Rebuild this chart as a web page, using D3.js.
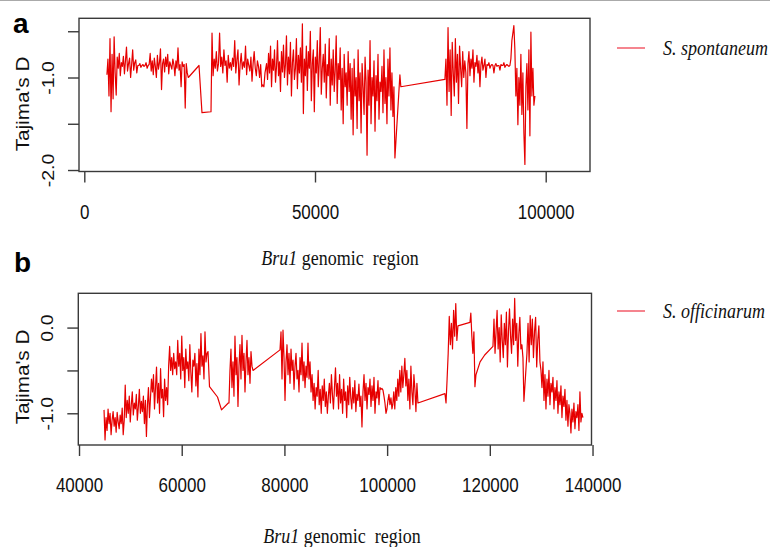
<!DOCTYPE html>
<html>
<head>
<meta charset="utf-8">
<script src="https://cdn.jsdelivr.net/npm/d3@7"></script>
<style>
  html, body { margin: 0; padding: 0; background: #fff; }
  svg { display: block; }
  .tick text { font-family: "Liberation Sans", Arial, sans-serif; font-size: 17px; fill: #111; }
</style>
</head>
<body>
<div id="chart"></div>
<script>
// ---- data: Tajima's D windows along the Bru1 region ----
// panel a, S. spontaneum: dense runs of evenly spaced windows, plus lone windows between them
const spontRunSpan = [[4900, 22540], [27680, 39160], [39500, 67320], [78150, 82920], [83150, 92240], [92450, 97660]];
const spontRun1 = [-0.97, -0.80, -1.20, -0.58, -1.37, -0.75, -1.23, -0.56,
  -0.95, -1.19, -0.78, -0.90, -0.74, -0.98, -0.84, -0.88, -0.77, -0.96, -0.82, -0.67, -0.93, -0.85, -0.79, -1.00, -0.86, -0.70, -0.92, -0.84, -0.81, -0.95, -0.87,
  -0.87, -0.85, -0.89, -0.87, -0.86, -0.88, -0.87, -0.84, -0.90, -0.87, -0.86, -0.74,
  -0.93, -0.82, -0.97, -0.79, -0.88, -1.00, -0.76, -0.91, -0.84, -0.69, -1.13, -0.85, -0.80, -0.94, -0.78, -0.88, -0.75, -0.96, -0.83, -0.87, -0.91, -0.80, -0.86, -0.98, -0.82, -0.90, -0.68, -0.92,
  -0.86, -1.10, -0.83, -0.88, -0.86, -1.33, -0.85, -0.95, -1.00];
const spontRun2 = [-0.52, -0.98, -0.80, -0.90, -0.72, -0.93, -0.85, -0.52, -0.88, -0.78, -0.95, -0.70, -0.87, -0.82, -1.05, -0.76, -0.90, -0.84, -0.92, -0.79,
  -0.88, -0.60, -0.95, -0.81, -0.70, -1.08, -0.86, -0.74, -0.91, -0.83, -0.89, -0.66, -0.97, -0.80, -0.87, -0.93, -0.78, -1.04, -0.85, -0.72,
  -0.90, -0.98, -0.82, -0.88, -1.00, -0.86, -1.10, -1.08, -1.10, -0.95];
const spontRun3 = [-0.85, -1.02, -0.74, -0.95, -0.66, -1.10, -0.80, -0.92, -0.70, -1.05, -0.88, -0.60, -0.98, -0.83, -1.15, -0.72, -0.94, -0.65, -1.00, -0.86,
  -0.55, -1.08, -0.78, -0.96, -0.62, -1.20, -0.84, -0.70, -1.02, -0.90, -0.58, -1.12, -0.76, -0.95, -0.68, -1.05, -0.42, -1.39, -0.80, -0.98,
  -0.66, -1.14, -0.72, -0.90, -0.50, -1.25, -0.85, -0.70, -1.37, -0.78, -0.95, -0.60, -1.10, -0.82, -0.46, -1.18, -0.90, -0.75, -1.05, -0.64,
  -1.22, -0.86, -0.98, -0.58, -1.30, -0.80, -1.08, -0.70, -1.15, -0.92, -0.55, -1.28, -0.85, -1.02, -0.68, -1.35, -0.90, -1.50, -0.75, -1.10,
  -0.95, -1.30, -0.72, -1.15, -0.85, -1.45, -0.90, -1.62, -0.80, -1.20, -1.00, -1.55, -0.70, -1.25, -0.95, -1.60, -0.85, -1.10, -1.40, -0.78,
  -1.05, -1.84, -0.92, -1.30, -0.60, -1.50, -1.00, -1.20, -0.82, -1.58, -0.98, -1.25, -0.75, -1.45, -1.05, -1.15, -0.88, -1.38, -0.70, -1.28,
  -1.00, -1.50, -0.80, -1.20, -0.68, -1.35, -0.95, -1.42, -1.10, -1.87];
const spontRun4 = [-1.02, -0.80, -1.30, -0.46, -1.15, -0.70, -1.41, -0.62, -0.95, -1.20, -0.58, -1.05, -0.75, -1.28, -0.66, -0.90, -1.10, -0.72, -1.00, -0.82, -0.95, -1.55];
const spontRun5 = [-0.85, -0.72, -0.98, -0.80, -0.90, -0.70, -1.05, -0.84, -0.88, -0.76, -0.95, -0.82, -1.10, -0.86, -0.78, -0.92, -0.87, -0.80, -1.00, -0.86,
  -0.87, -0.84, -0.90, -0.87, -0.86, -0.87, -0.95, -0.87, -0.85, -0.88, -0.87, -0.87, -0.92, -0.86, -0.87, -0.87, -0.84, -0.89, -0.87, -0.86, -0.87, -0.88, -0.87];
const spontRun6 = [-0.80, -0.60, -0.52, -0.44, -0.70, -1.20, -0.90, -1.51, -1.00, -1.30, -0.75, -1.40, -0.95, -1.60, -1.94, -1.10, -0.85, -1.35, -0.70, -1.63, -0.51, -1.20, -0.90, -1.30, -1.20];
const spontLinkPos = [24860, 25500, 27460, 68400, 68600];
const spontLinkD = [-0.87, -1.38, -1.37, -0.97, -1.10];

// panel b, S. officinarum
const officRunSpan = [[44870, 65120], [69200, 73880], [79140, 84400], [84590, 95300], [95500, 100940], [101100, 106000],
  [111260, 113790], [116300, 117100], [120610, 126450], [127230, 129760], [129960, 138130]];
const officRun1 = [-0.96, -1.31, -1.05, -1.20, -0.95, -1.12, -1.00, -1.25, -1.08, -0.98, -1.15, -1.05, -1.22, -0.99, -1.10, -1.18, -1.02, -1.12, -0.94, -1.25, -1.08,
  -0.67, -1.05, -0.85, -1.00, -0.80, -1.10, -0.90, -0.75, -1.02, -0.88, -0.95, -0.78, -1.08, -0.92, -0.72, -1.00, -0.86, -0.98, -0.80, -1.12, -0.85, -1.27, -0.90, -0.70, -1.05, -0.82, -0.60,
  -0.75, -0.55, -0.95, -0.70, -0.46, -0.88, -0.65, -1.00, -0.48, -0.82, -0.72, -1.04, -0.60, -0.85, -0.70, -0.90,
  -0.45, -0.22, -0.50, -0.35, -0.55, -0.30, -0.48,
  -0.40, -0.55, -0.15, -0.45, -0.30, -0.60, -0.10, -0.50, -0.35, -0.70, -0.25, -0.48, -0.40, -0.62, -0.20, -0.52, -0.75, -0.38, -0.45, -0.30,
  -0.68, -0.42, -0.81, -0.25, -0.55, -0.07, -0.45, -0.33, -0.60, -0.05, -0.40, -0.30, -0.28];
const officRun2 = [-0.88, -0.50, -0.25, -0.70, -0.40, -0.80, -0.10, -0.55, -0.35, -0.92, -0.45, -0.20, -0.60, -0.09, -0.50, -0.30, -0.75, -0.40, -0.15, -0.55, -0.35, -0.65, -0.28, -0.45, -0.50];
const officRun3 = [-0.26, -0.05, -0.60, -0.03, -0.35, -0.85, -0.40, -0.20, -0.55, -0.30, -0.65, -0.25, -0.50, -0.38, -0.72, -0.45, -0.30, -0.60, -0.50, -0.75, -0.35, -0.55, -0.18, -0.62, -0.40, -0.70, -0.45, -0.58];
const officRun4 = [-0.18, -0.60, -0.40, -0.75, -0.55, -0.85, -0.65, -0.95, -0.70, -0.80, -0.50, -0.90, -0.72, -1.00, -0.68, -0.85, -0.60, -0.92, -0.75, -1.00, -0.80, -0.65, -0.88, -0.55, -0.78, -0.95, -0.70,
  -0.47, -0.80, -0.65, -0.95, -0.55, -0.88, -0.72, -1.00, -0.60, -0.85, -0.75, -1.05, -0.68, -0.90, -0.58, -0.82, -0.95, -0.70, -0.88, -0.62, -0.98, -0.78, -0.85, -0.66, -0.92, -0.80, -1.16, -0.75];
const officRun5 = [-0.55, -0.85, -0.65, -0.95, -0.70, -0.78, -0.60, -0.92, -0.68, -0.85, -0.58, -1.00, -0.75, -0.82, -0.62, -0.90, -0.70, -0.72, -0.71, -0.73, -0.80, -0.88, -1.00, -0.95, -0.85, -0.78, -0.90, -0.82, -0.95];
const officRun6 = [-0.90, -0.75, -0.95, -0.70, -0.85, -0.60, -0.80, -0.50, -0.75, -0.45, -0.70, -0.55, -0.36, -0.68, -0.50, -0.85, -0.60, -0.95, -0.45, -0.75, -0.90, -0.55, -0.72, -0.98, -0.65, -0.88];
const officRun7 = [-0.77, -0.88, -0.60, -0.30, 0.13, -0.20, 0.05, -0.25, 0.20, -0.10, 0.28, -0.15, 0.02];
const officRun8 = [0.17, -0.10, -0.30, -0.05, -0.69];
const officRun9 = [-0.22, 0.10, -0.30, -0.05, 0.20, -0.25, 0.00, -0.40, 0.15, -0.15, -0.35, 0.05, -0.20, 0.18, -0.46, -0.05, 0.22, -0.10, -0.30, 0.10,
  -0.20, 0.34, -0.15, 0.05, -0.45, -0.08, 0.12, -0.25, -0.20, -0.35];
const officRun10 = [-0.30, 0.05, -0.40, 0.14, -0.20, 0.10, -0.35, -0.05, 0.12, -0.46, -0.15, 0.02, -0.40];
const officRun11 = [-0.50, -0.70, -0.40, -0.85, -0.55, -0.95, -0.60, -0.80, -0.50, -0.90, -0.65, -0.75, -0.58, -0.95, -0.70, -0.85, -0.62, -1.00, -0.75, -0.90,
  -0.68, -1.05, -0.80, -0.92, -0.72, -1.08, -0.85, -1.15, -0.90, -1.00, -1.23, -0.95, -1.10, -0.88, -1.18, -0.98, -1.05, -0.90, -1.20, -0.75, -1.10, -1.00, -1.05];
const officLinkPos = [65410, 66970, 67750, 69070, 116130, 117300, 118100, 119000, 126640];
const officLinkD = [-0.69, -0.81, -0.96, -0.88, 0.06, -0.55, -0.40, -0.32, -0.86];

// axes
const spontXTicks = [0, 50000, 100000];
const spontYTicks = [-0.5, -1.0, -1.5, -2.0];
const spontYLabels = [-1.0, -2.0];
const officXTicks = [40000, 60000, 80000, 100000, 120000, 140000];
const officYTicks = [0.0, -0.5, -1.0];
const officYLabels = [0.0, -1.0];

// windows of a run sit at a fixed step between its first and last position
function windows(spans, runs, linkPos, linkD) {
  const pts = [];
  spans.forEach(([a, b], i) => {
    const vals = runs[i];
    vals.forEach((d, j) => pts.push([a + (b - a) * j / (vals.length - 1), d]));
  });
  linkPos.forEach((p, i) => pts.push([p, linkD[i]]));
  return pts.sort((p, q) => p[0] - q[0]);
}

const spont = windows(spontRunSpan, [spontRun1, spontRun2, spontRun3, spontRun4, spontRun5, spontRun6], spontLinkPos, spontLinkD);
const offic = windows(officRunSpan, [officRun1, officRun2, officRun3, officRun4, officRun5, officRun6, officRun7, officRun8, officRun9, officRun10, officRun11], officLinkPos, officLinkD);

const W = 770, H = 547;
const svg = d3.select('#chart').append('svg').attr('width', W).attr('height', H);
svg.append('rect').attr('width', W).attr('height', H).attr('fill', '#fff');
svg.append('line').attr('x1', 0).attr('x2', W).attr('y1', 0.5).attr('y2', 0.5).attr('stroke', '#aaa');

const sans = '"Liberation Sans", Arial, sans-serif';
const serif = '"Liberation Serif", "Times New Roman", serif';
const STRETCH = 1.15; // the figure is a little taller than wide

function panel(opts) {
  const x = d3.scaleLinear().domain(opts.xDomain).range([opts.left, opts.right]);
  const y = d3.scaleLinear().domain(opts.yDomain).range([opts.bottom, opts.top]);
  const g = svg.append('g');

  g.append('path')
    .datum(opts.data)
    .attr('fill', 'none')
    .attr('stroke', '#e60000')
    .attr('stroke-width', 1.2)
    .attr('stroke-linejoin', 'round')
    .attr('d', d3.line().x(d => x(d[0])).y(d => y(d[1])));

  g.append('rect')
    .attr('x', opts.left).attr('y', opts.top)
    .attr('width', opts.right - opts.left).attr('height', opts.bottom - opts.top)
    .attr('fill', 'none').attr('stroke', '#3a3a3a').attr('stroke-width', 1.4);

  const xa = g.append('g')
    .attr('transform', 'translate(0,' + opts.bottom + ')')
    .call(d3.axisBottom(x).tickValues(opts.xTicks).tickSize(11).tickFormat(d3.format('d')));
  xa.select('.domain').remove();
  xa.selectAll('line').attr('stroke', '#3a3a3a').attr('stroke-width', 1.4);
  xa.selectAll('text')
    .attr('y', null).attr('dy', null)
    .attr('transform', 'translate(0,47) scale(1,' + STRETCH + ')');

  const ya = g.append('g')
    .attr('transform', 'translate(' + opts.left + ',0)')
    .call(d3.axisLeft(y).tickValues(opts.yTicks).tickSize(11)
      .tickFormat(d => opts.yLabels.includes(d) ? d3.format('.1f')(d).replace('−', '-') : ''));
  ya.select('.domain').remove();
  ya.selectAll('line').attr('stroke', '#3a3a3a').attr('stroke-width', 1.4);
  ya.selectAll('text')
    .attr('x', null).attr('dy', null)
    .attr('text-anchor', 'middle')
    .attr('transform', 'translate(-25,0) rotate(-90) scale(' + STRETCH + ',1)');

  // y title
  g.append('text')
    .attr('transform', 'translate(29,' + opts.yTitleY + ') rotate(-90) scale(' + STRETCH + ',1)')
    .attr('text-anchor', 'middle')
    .style('font-family', sans).style('font-size', '18px').attr('fill', '#111')
    .text("Tajima's D");

  // x title
  const xt = g.append('text')
    .attr('transform', 'translate(' + opts.xTitleX + ',' + opts.xTitleY + ') scale(1,' + STRETCH + ')')
    .attr('text-anchor', 'middle')
    .style('font-family', serif).style('font-size', '18px').attr('fill', '#111');
  xt.append('tspan').style('font-style', 'italic').text('Bru1');
  xt.append('tspan').attr('xml:space', 'preserve').text(' genomic\u00a0 region');

  // panel letter
  g.append('text')
    .attr('x', opts.letterX).attr('y', opts.letterY)
    .style('font-family', sans).style('font-size', '28px').style('font-weight', 'bold').attr('fill', '#000')
    .text(opts.letter);

  // legend
  g.append('line')
    .attr('x1', 617).attr('x2', 645).attr('y1', opts.legendY).attr('y2', opts.legendY)
    .attr('stroke', '#ee3344').attr('stroke-width', 1.2);
  g.append('text')
    .attr('transform', 'translate(663,' + (opts.legendY + 7) + ') scale(1,' + STRETCH + ')')
    .style('font-family', serif).style('font-size', '18px').style('font-style', 'italic').attr('fill', '#111')
    .text(opts.legend);
}

panel({
  data: spont,
  xDomain: [-1150, 109600], yDomain: [-2.016, -0.36],
  left: 79, right: 590, top: 18.3, bottom: 171.5,
  xTicks: spontXTicks, yTicks: spontYTicks, yLabels: spontYLabels,
  yTitleY: 104, xTitleX: 340, xTitleY: 265,
  letter: 'a', letterX: 13, letterY: 33,
  legendY: 48, legend: 'S. spontaneum'
});

panel({
  data: offic,
  xDomain: [39860, 139800], yDomain: [-1.37, 0.40],
  left: 78.3, right: 591.5, top: 293.3, bottom: 445,
  xTicks: officXTicks, yTicks: officYTicks, yLabels: officYLabels,
  yTitleY: 377, xTitleX: 342, xTitleY: 543,
  letter: 'b', letterX: 14, letterY: 272,
  legendY: 311, legend: 'S. officinarum'
});
</script>
</body>
</html>
